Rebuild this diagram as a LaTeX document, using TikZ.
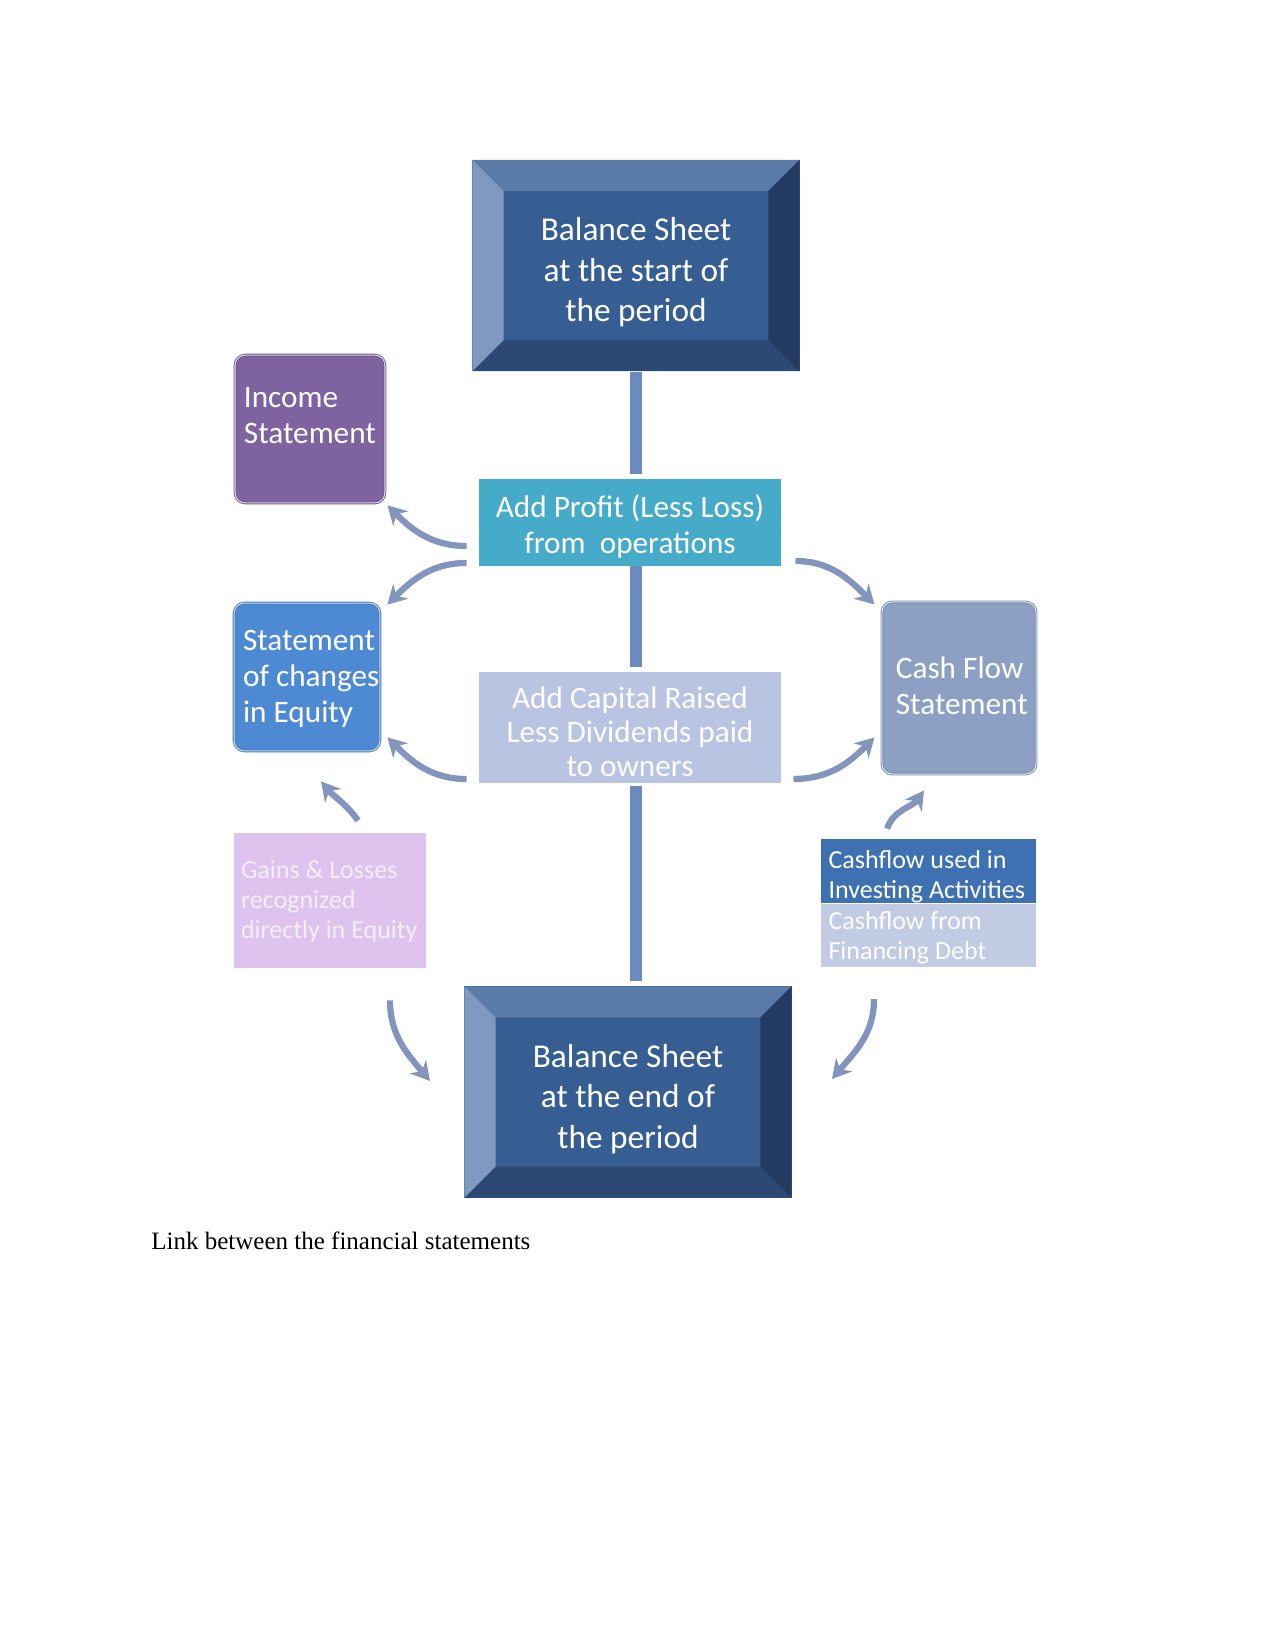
\documentclass[tikz,border=0pt]{standalone}
\usepackage{fontspec}
\setmainfont{Liberation Serif}
\newfontfamily\calfont{Carlito}
\usepackage{tikz}
\usetikzlibrary{arrows.meta}

\definecolor{bsface}{HTML}{375E92}
\definecolor{bstop}{HTML}{5B7CA9}
\definecolor{bsleft}{HTML}{8099C1}
\definecolor{bsright}{HTML}{233B60}
\definecolor{bsbottom}{HTML}{2C4975}
\definecolor{profitcol}{HTML}{45ABC8}
\definecolor{capitalcol}{HTML}{B8C4E1}
\definecolor{incomecol}{HTML}{7F63A1}
\definecolor{sociecol}{HTML}{4E8AD4}
\definecolor{cashcol}{HTML}{8CA0C4}
\definecolor{investcol}{HTML}{3D71B1}
\definecolor{debtcol}{HTML}{C1CBE3}
\definecolor{gainscol}{HTML}{DDC3EE}
\definecolor{linkcol}{HTML}{8395BE}
\definecolor{barcol}{HTML}{6B8BBF}

\begin{document}
\begin{tikzpicture}[x=0.48pt, y=-0.48pt,
  bevel/.style={rectangle, fill=bsface, inner sep=0pt,
    minimum width=157pt, minimum height=101.5pt,
    path picture={
      \coordinate (pnw) at (path picture bounding box.north west);
      \coordinate (pse) at (path picture bounding box.south east);
      \coordinate (pne) at (pse |- pnw);
      \coordinate (psw) at (pnw |- pse);
      \coordinate (inw) at ([shift={(15pt,-15pt)}]pnw);
      \coordinate (ine) at ([shift={(-15pt,-15pt)}]pne);
      \coordinate (ise) at ([shift={(-15pt,15pt)}]pse);
      \coordinate (isw) at ([shift={(15pt,15pt)}]psw);
      \fill[bstop] (pnw) -- (pne) -- (ine) -- (inw) -- cycle;
      \fill[bsbottom] (psw) -- (pse) -- (ise) -- (isw) -- cycle;
      \fill[bsleft] (pnw) -- (psw) -- (isw) -- (inw) -- cycle;
      \fill[bsright] (pne) -- (pse) -- (ise) -- (ine) -- cycle;
    }},
  bstext/.style={text=white, align=center, inner sep=0pt, yshift=-3.3pt,
    font=\calfont\fontsize{16}{19.5}\selectfont},
  flatbox/.style={rectangle, inner sep=0pt},
  roundbox/.style={rectangle, rounded corners=5pt, inner sep=0pt,
    draw=#1!85!black, double=white!75!#1, double distance=0.5pt, fill=#1},
  midtext/.style={text=white, align=center, inner sep=0pt, yshift=-2pt,
    font=\calfont\fontsize{15}{17.3}\selectfont},
  lbl/.style={text=white, align=left, inner sep=0pt, anchor=west,
    font=\calfont\fontsize{15}{17.3}\selectfont},
  lblsmall/.style={lbl, font=\calfont\fontsize{12.5}{14.4}\selectfont},
  link/.style={draw=linkcol, line width=3pt, -{Stealth[length=9pt, width=10pt]}},
  bar/.style={draw=barcol, line width=5.8pt}]
\useasboundingbox (0,0) rectangle (1275,1651);

\node[bevel, label={[bstext]center:Balance Sheet\\at the start of\\the period}] (bstart) at (636,265.5) {};
\node[flatbox, fill=profitcol, minimum width=145pt, minimum height=41.8pt,
  label={[midtext]center:Add Profit (Less Loss)\\from~ operations}] (profit) at (630,522.5) {};
\node[flatbox, fill=capitalcol, minimum width=145pt, minimum height=53.3pt,
  label={[midtext, font=\calfont\fontsize{15}{16.5}\selectfont]center:Add Capital Raised\\Less Dividends paid\\to owners}]
  (capital) at (630,727.5) {};
\node[roundbox=incomecol, minimum width=72pt, minimum height=71pt,
  label={[lbl, xshift=4.3pt, yshift=6.5pt]west:Income\\Statement}] (income) at (310,429) {};
\node[roundbox=sociecol, minimum width=70pt, minimum height=71pt,
  label={[lbl, xshift=4.3pt, yshift=-1pt]west:Statement\\of changes\\in Equity}] (socie) at (307,677) {};
\node[roundbox=cashcol, minimum width=74pt, minimum height=82.6pt,
  label={[lbl, xshift=6.7pt, yshift=1pt]west:Cash Flow\\Statement}] (cashflow) at (959,688) {};
\node[flatbox, fill=investcol, minimum width=103.2pt, minimum height=30.7pt,
  label={[lblsmall, xshift=3.6pt, yshift=-2.5pt]west:Cashflow used in\\Investing Activities}] (invest) at (928.5,871) {};
\node[flatbox, fill=debtcol, minimum width=103.2pt, minimum height=30.2pt, anchor=north,
  label={[lblsmall, xshift=3.6pt, yshift=-1pt]west:Cashflow from\\Financing Debt}] (debt) at (invest.south) {};
\node[flatbox, fill=gainscol, minimum width=92.2pt, minimum height=64.8pt,
  label={[lblsmall, text=white!70!gainscol, xshift=3.4pt, yshift=-0.6pt]west:Gains \& Losses\\recognized\\directly in Equity}] (gains) at (330,900.5) {};
\node[bevel, label={[bstext]center:Balance Sheet\\at the end of\\the period}] (bend) at (628,1092) {};

\draw[bar, shorten >=2.4pt] (bstart.south) -- (bstart.south |- profit.north);
\draw[bar, shorten >=2.4pt] (profit.south -| bstart.south) -- (capital.north -| bstart.south);
\draw[bar, shorten <=1pt, shorten >=2.4pt] (capital.south -| bstart.south) -- (bend.north -| bstart.south);

\draw[link] ([shift={(-12,23.5)}]profit.west) to[out=180, in=-45] ([shift={(2,2)}]income.south east);
\draw[link] ([shift={(-12,40.5)}]profit.west) to[out=180, in=45] ([shift={(7,2)}]socie.north east);
\draw[link] ([shift={(-12,51.5)}]capital.west) to[out=180, in=-45] ([shift={(7,-14)}]socie.south east);
\draw[link] ([shift={(28,-12)}]gains.north) to[out=125, in=-50] ([shift={(14,30)}]socie.south);
\draw[link] ([shift={(14,38.5)}]profit.east) to[out=0, in=135] ([shift={(-7,3)}]cashflow.north west);
\draw[link] ([shift={(12,51.5)}]capital.east) to[out=0, in=-135] ([shift={(-7,-37)}]cashflow.south west);
\draw[link] ([shift={(-41.5,-10)}]invest.north) to[out=70, in=-125] ([shift={(-35,16)}]cashflow.south);
\draw[link] ([shift={(60,32)}]gains.south) to[out=-90, in=130] ([shift={(-34,-11)}]bend.west);
\draw[link] ([shift={(-54.5,32)}]debt.south) to[out=-90, in=50] ([shift={(40,-13)}]bend.east);

\node[anchor=base west, font=\fontsize{12}{14.4}\selectfont] (caption) at (144,1249)
  {Link between the financial statements};
\end{tikzpicture}
\end{document}
